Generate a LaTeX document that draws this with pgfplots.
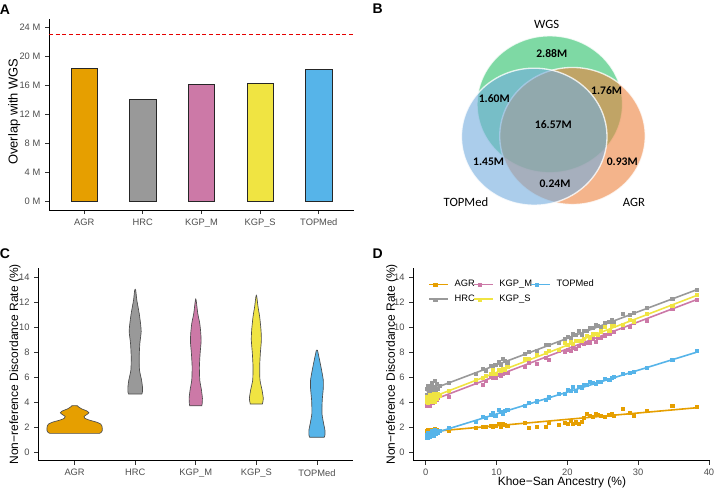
\documentclass[border=0pt]{standalone}
\usepackage{pgfplots}
\pgfplotsset{compat=1.18}
\usepackage{pgfplotstable}
\usepackage{fontspec}
\setmainfont{Liberation Sans}
\newfontfamily\vennfont{Carlito}

\definecolor{cAGR}{HTML}{E69F00}
\definecolor{cHRC}{HTML}{999999}
\definecolor{cKGPM}{HTML}{CC79A7}
\definecolor{cKGPS}{HTML}{F0E442}
\definecolor{cTOP}{HTML}{56B4E9}
\definecolor{grey30}{HTML}{4D4D4D}
\definecolor{vgreen}{RGB}{40,192,103}
\definecolor{vblue}{RGB}{115,172,222}
\definecolor{vorange}{RGB}{237,130,62}

\pgfplotstableread{
x agr hrc kgpm kgps top
0.1 1.71 5.07 3.73 4.08 1.42
0.2 1.51 4.59 4.31 4.45 1.19
0.3 1.77 5.31 3.94 3.99 1.55
0.4 1.57 4.84 4.28 4.36 1.32
0.5 1.73 5.26 3.74 4.10 1.54
0.6 1.53 4.58 4.16 4.61 1.21
0.7 1.69 5.10 4.50 4.28 1.47
0.8 1.79 5.52 3.96 4.02 1.69
0.9 1.60 4.84 4.30 4.54 1.36
1.0 1.75 5.26 3.93 4.28 1.58
1.1 1.56 4.78 4.67 4.65 1.34
1.2 1.86 5.71 4.21 4.04 1.81
1.3 1.67 5.13 4.07 4.48 1.53
1.4 1.62 4.95 4.49 4.65 1.45
1.5 1.78 5.47 4.19 4.32 1.71
1.7 1.64 5.11 4.40 4.64 1.55
1.9 1.75 5.35 4.52 4.54 1.68
3.2 1.72 5.58 4.44 4.90 1.96
7.0 1.98 6.29 5.56 5.78 2.43
8.0 2.05 6.65 5.38 5.99 2.85
8.5 2.00 6.56 5.69 6.15 2.74
9.2 2.12 6.96 6.04 6.26 3.01
9.5 2.02 6.82 5.95 6.57 3.16
9.8 2.15 7.04 5.97 6.29 2.92
10.3 2.25 7.24 6.23 6.60 3.40
10.6 2.05 7.01 6.09 6.56 3.26
10.9 2.30 7.47 6.25 6.68 3.11
11.2 2.18 7.34 6.47 6.59 3.31
11.5 2.12 7.20 6.38 6.81 3.41
14.0 2.35 7.88 6.87 7.50 3.70
14.5 1.95 8.04 7.13 7.46 3.99
15.6 2.02 8.12 7.12 7.80 4.08
17.0 2.05 8.62 7.57 7.96 4.18
17.4 2.35 8.61 7.41 8.14 4.40
18.8 2.20 8.75 8.11 8.20 4.69
19.6 2.35 9.07 8.03 8.77 4.68
20.1 2.25 9.23 8.24 8.63 5.02
20.4 2.50 9.15 8.16 8.85 4.92
20.8 2.30 9.48 8.34 8.68 5.24
21.2 2.40 9.42 8.28 8.92 4.91
21.6 2.28 9.75 8.52 8.96 5.23
22.0 2.42 9.44 8.75 8.90 5.20
22.3 2.75 9.75 8.67 9.11 5.40
22.7 3.05 9.74 8.80 9.30 5.37
23.2 2.95 9.99 8.81 9.21 5.61
23.6 2.85 9.98 9.10 9.45 5.53
24.0 3.10 10.21 8.83 9.48 5.45
24.3 3.00 10.13 9.15 9.40 5.65
24.7 2.90 10.06 9.19 9.69 5.67
25.3 2.85 10.34 9.37 10.02 5.88
25.9 3.00 10.42 9.49 9.75 5.78
26.3 3.05 10.60 9.63 10.13 6.00
26.6 2.95 10.47 9.65 10.10 6.01
27.8 3.50 11.07 10.01 10.21 6.27
28.8 3.15 11.03 10.07 10.63 6.39
29.3 2.95 11.19 10.38 10.49 6.48
31.2 3.30 11.55 10.54 11.10 6.76
34.8 3.70 12.31 11.52 11.74 7.44
38.2 3.65 12.99 12.20 12.58 8.14
}\dataD

\pgfplotsset{
  gg/.style={
    scale only axis,
    axis x line*=bottom, axis y line*=left,
    axis line style={black, line width=0.7pt},
    tick align=outside,
    major tick length=3pt,
    every tick/.style={black!80, line width=0.6pt},
    tick label style={font=\fontsize{7}{8}\selectfont, text=grey30},
    label style={font=\fontsize{9}{10}\selectfont},
    /pgf/number format/assume math mode=true,
  },
  bar/.style={ybar, bar shift=0pt, bar width=0.45, draw=black!85, line width=0.6pt},
  vio/.style={smooth, tension=0.35, draw=grey30, line width=0.5pt},
  pts/.style={only marks, mark=square*, mark size=1.15pt, mark options={line width=0.2pt}, forget plot},
  fit/.style={line width=1.2pt, forget plot},
}

\begin{document}
\begin{tikzpicture}
\useasboundingbox (0,0) rectangle (537pt,-366.75pt);

% ---------------- Panel A
\begin{axis}[gg, at={(36.75pt,-157.5pt)}, anchor=south west,
  width=228.75pt, height=143.25pt,
  xmin=0.4, xmax=5.6, ymin=-1.15, ymax=25.1,
  xtick={1,2,3,4,5}, xticklabels={AGR,HRC,KGP\_M,KGP\_S,TOPMed},
  ytick={0,4,8,12,16,20,24}, yticklabels={0 M,4 M,8 M,12 M,16 M,20 M,24 M},
  ylabel={Overlap with WGS},
  ylabel style={at={(axis description cs:-0.114,0.515)}, anchor=center, font=\fontsize{9.7}{11}\selectfont},
]
\addplot[bar, fill=cAGR] coordinates {(1,18.3)};
\addplot[bar, fill=cHRC] coordinates {(2,14.08)};
\addplot[bar, fill=cKGPM] coordinates {(3,16.05)};
\addplot[bar, fill=cKGPS] coordinates {(4,16.23)};
\addplot[bar, fill=cTOP] coordinates {(5,18.16)};
\addplot[red!90!black, line width=0.6pt, dash pattern=on 3pt off 2pt] coordinates {(0.4,22.93) (5.6,22.93)};
\end{axis}

% ---------------- Panel B (Venn)
\begin{axis}[at={(270pt,-183.75pt)}, anchor=south west, scale only axis,
  width=267pt, height=183.75pt, xmin=360, xmax=716, ymin=-245, ymax=0,
  hide axis, clip=false]
\addplot[only marks, mark=*, mark size=51.4pt,
  mark options={xscale=1.062, fill=vgreen, fill opacity=0.6, draw=white, draw opacity=0.8, line width=1pt}]
  coordinates {(549.8,-104.3)};
\addplot[only marks, mark=*, mark size=51.4pt,
  mark options={xscale=1.062, fill=vorange, fill opacity=0.6, draw=white, draw opacity=0.8, line width=1pt}]
  coordinates {(572.5,-136.0)};
\addplot[only marks, mark=*, mark size=51.4pt,
  mark options={xscale=1.062, fill=vblue, fill opacity=0.6, draw=white, draw opacity=0.8, line width=1pt}]
  coordinates {(534.2,-136.7)};
\end{axis}
% Venn labels (drawn after the ellipses so they stay on top)
\begin{scope}[every node/.style={font=\vennfont\fontsize{9.5}{11}\selectfont, opacity=1, text opacity=1}]
\node at (410.0pt,-18pt) {WGS};
\node at (349.5pt,-151.5pt) {TOPMed};
\node at (475.5pt,-151.5pt) {AGR};
\end{scope}
\begin{scope}[every node/.style={font=\vennfont\bfseries\fontsize{8.7}{10}\selectfont, opacity=1, text opacity=1}]
\node at (413.8pt,-40.5pt) {2.88M};
\node at (370.7pt,-74.25pt) {1.60M};
\node at (455.0pt,-68.25pt) {1.76M};
\node at (415.0pt,-93.2pt) {16.57M};
\node at (366.5pt,-121.3pt) {1.45M};
\node at (466.7pt,-121.3pt) {0.93M};
\node at (416.25pt,-137.5pt) {0.24M};
\end{scope}

% ---------------- Panel C (violins)
\begin{axis}[gg, at={(28.7pt,-345.4pt)}, anchor=south west,
  width=236.25pt, height=144.15pt,
  xmin=0.4, xmax=5.6, ymin=-0.68, ymax=14.72,
  xtick={1,2,3,4,5}, xticklabels={AGR,HRC,KGP\_M,KGP\_S,TOPMed},
  ytick={0,2,4,6,8,10,12,14},
  ylabel={Non−reference Discordance Rate (\%)},
  ylabel style={at={(axis description cs:-0.074,0.5)}, anchor=center},
]
\addplot[vio, fill=cAGR] coordinates {
 (1.41,1.50) (1.44,1.58) (1.455,1.70) (1.457,1.90) (1.45,2.10) (1.43,2.25) (1.36,2.40) (1.25,2.55) (1.17,2.70) (1.155,2.85) (1.20,3.00) (1.235,3.15) (1.20,3.30) (1.12,3.45) (1.07,3.60) (1.045,3.71)
 (0.955,3.71) (0.93,3.60) (0.88,3.45) (0.80,3.30) (0.765,3.15) (0.80,3.00) (0.845,2.85) (0.83,2.70) (0.75,2.55) (0.64,2.40) (0.57,2.25) (0.55,2.10) (0.543,1.90) (0.545,1.70) (0.56,1.58) (0.59,1.50)
} -- cycle;
\addplot[vio, fill=cHRC] coordinates {
 (2.11,4.65) (2.12,4.83) (2.12,5.23) (2.105,5.77) (2.071,6.57) (2.066,7.64) (2.077,8.71) (2.099,9.64) (2.088,10.31) (2.066,11.11) (2.027,12.18) (2.008,12.98)
 (1.992,12.98) (1.973,12.18) (1.934,11.11) (1.912,10.31) (1.901,9.64) (1.923,8.71) (1.934,7.64) (1.929,6.57) (1.895,5.77) (1.88,5.23) (1.88,4.83) (1.89,4.65)
} -- cycle;
\addplot[vio, fill=cKGPM] coordinates {
 (3.10,3.71) (3.105,3.85) (3.11,4.30) (3.094,4.97) (3.066,5.77) (3.06,6.84) (3.072,7.91) (3.088,8.84) (3.083,9.51) (3.066,10.31) (3.033,11.11) (3.006,12.18)
 (2.994,12.18) (2.967,11.11) (2.934,10.31) (2.917,9.51) (2.912,8.84) (2.928,7.91) (2.94,6.84) (2.934,5.77) (2.906,4.97) (2.89,4.30) (2.895,3.85) (2.90,3.71)
} -- cycle;
\addplot[vio, fill=cKGPS] coordinates {
 (4.10,3.85) (4.105,3.96) (4.115,4.30) (4.094,4.97) (4.06,5.77) (4.055,6.84) (4.066,7.91) (4.083,8.97) (4.077,9.78) (4.055,10.84) (4.028,11.64) (4.006,12.5)
 (3.994,12.5) (3.972,11.64) (3.945,10.84) (3.923,9.78) (3.917,8.97) (3.934,7.91) (3.945,6.84) (3.94,5.77) (3.906,4.97) (3.885,4.30) (3.895,3.96) (3.90,3.85)
} -- cycle;
\addplot[vio, fill=cTOP] coordinates {
 (5.12,1.18) (5.132,1.36) (5.132,1.76) (5.11,2.30) (5.083,3.10) (5.088,4.17) (5.105,5.10) (5.105,5.77) (5.077,6.57) (5.044,7.37) (5.008,8.17)
 (4.992,8.17) (4.956,7.37) (4.923,6.57) (4.895,5.77) (4.895,5.10) (4.912,4.17) (4.917,3.10) (4.89,2.30) (4.868,1.76) (4.868,1.36) (4.88,1.18)
} -- cycle;
\end{axis}

% ---------------- Panel D (scatter + fits)
\begin{axis}[gg, at={(310pt,-345.4pt)}, anchor=south west,
  width=222.5pt, height=144.15pt,
  xmin=-1.75, xmax=40.15, ymin=-0.68, ymax=14.72,
  xtick={0,10,20,30,40}, ytick={0,2,4,6,8,10,12,14},
  xlabel={Khoe−San Ancestry (\%)},
  ylabel={Non−reference Discordance Rate (\%)},
  xlabel style={at={(axis description cs:0.501,-0.113)}, anchor=center},
  ylabel style={at={(axis description cs:-0.0728,0.5)}, anchor=center},
  legend columns=3,
  legend image code/.code={\draw[mark repeat=2,mark phase=2,#1] plot coordinates {(0pt,0pt) (4.4pt,0pt) (8.8pt,0pt)};
    \path (0pt,0pt) -- (14pt,0pt);},
  legend style={draw=none, fill=none, at={(0.05,0.95)}, anchor=north west,
    font=\fontsize{7}{8}\selectfont, inner sep=0pt, row sep=1.5pt,
    nodes={inner xsep=1pt, inner ysep=1.5pt},
    /tikz/every even column/.append style={column sep=-2.3pt},
    /tikz/every odd column/.append style={column sep=3.5pt}},
  legend cell align=left,
]
\addlegendimage{cAGR, line width=1.2pt, mark=square*, mark size=1.15pt, mark options={line width=0.2pt}}
\addlegendimage{cKGPM, line width=1.2pt, mark=square*, mark size=1.15pt, mark options={line width=0.2pt}}
\addlegendimage{cTOP, line width=1.2pt, mark=square*, mark size=1.15pt, mark options={line width=0.2pt}}
\addlegendimage{cHRC, line width=1.2pt, mark=square*, mark size=1.15pt, mark options={line width=0.2pt}}
\addlegendimage{cKGPS, line width=1.2pt, mark=square*, mark size=1.15pt, mark options={line width=0.2pt}}
\legend{AGR,KGP\_M,TOPMed,HRC,KGP\_S}
\addplot[pts, cAGR] table[x=x, y=agr] {\dataD};
\addplot[pts, cHRC] table[x=x, y=hrc] {\dataD};
\addplot[pts, cKGPM] table[x=x, y=kgpm] {\dataD};
\addplot[pts, cKGPS] table[x=x, y=kgps] {\dataD};
\addplot[pts, cTOP] table[x=x, y=top] {\dataD};
\addplot[fit, cAGR] coordinates {(0.1,1.605) (38.2,3.548)};
\addplot[fit, cHRC] coordinates {(0.1,4.87) (38.2,12.99)};
\addplot[fit, cKGPM] coordinates {(0.1,3.97) (38.2,12.2)};
\addplot[fit, cKGPS] coordinates {(0.1,4.22) (38.2,12.53)};
\addplot[fit, cTOP] coordinates {(0.1,1.32) (38.2,7.99)};
\end{axis}

% panel letters
\begin{scope}[every node/.style={font=\bfseries\fontsize{10.5}{12}\selectfont}]
\node at (3.75pt,-7.5pt) {A};
\node at (283.3pt,-6.25pt) {B};
\node at (3.75pt,-190pt) {C};
\node at (283.3pt,-190pt) {D};
\end{scope}
\end{tikzpicture}
\end{document}
